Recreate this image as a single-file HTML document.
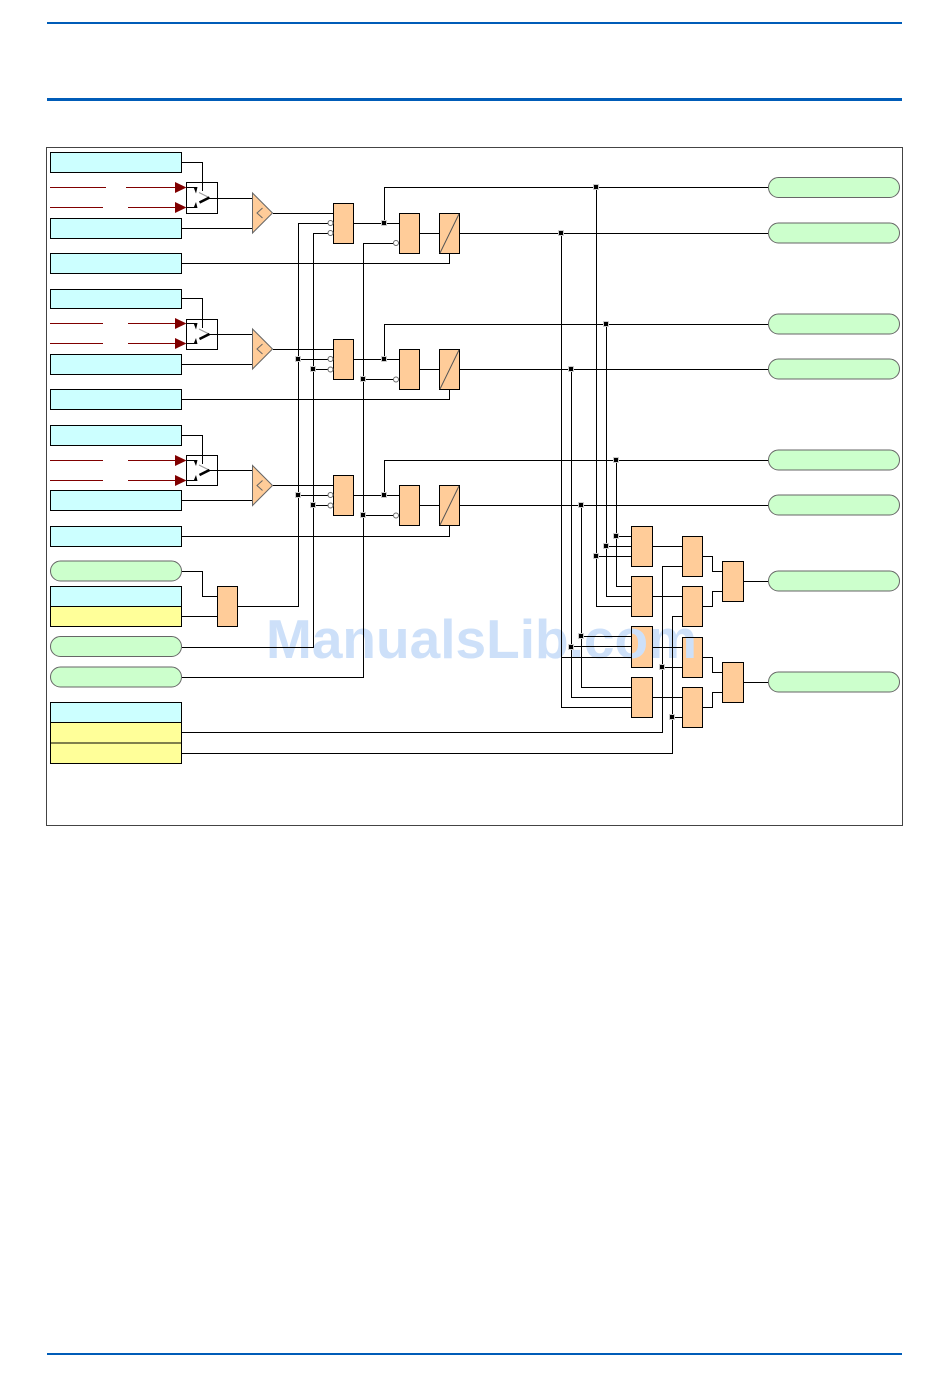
<!DOCTYPE html>
<html>
<head>
<meta charset="utf-8">
<style>
html,body{margin:0;padding:0;background:#fff;}
svg{display:block;}
</style>
</head>
<body>
<svg xmlns="http://www.w3.org/2000/svg" width="950" height="1387" viewBox="0 0 950 1387">
<defs>
<g id="j">
<rect x="382" y="221" width="4" height="4"/><rect x="382" y="357" width="4" height="4"/><rect x="382" y="493" width="4" height="4"/>
<rect x="296" y="357" width="4" height="4"/><rect x="311" y="367" width="4" height="4"/><rect x="361" y="377" width="4" height="4"/>
<rect x="296" y="493" width="4" height="4"/><rect x="311" y="503" width="4" height="4"/><rect x="361" y="513" width="4" height="4"/>
<rect x="594" y="185" width="4" height="4"/><rect x="559" y="231" width="4" height="4"/>
<rect x="604" y="322" width="4" height="4"/><rect x="569" y="367" width="4" height="4"/>
<rect x="614" y="458" width="4" height="4"/><rect x="579" y="503" width="4" height="4"/>
<rect x="614" y="534" width="4" height="4"/><rect x="604" y="544" width="4" height="4"/><rect x="594" y="554" width="4" height="4"/>
<rect x="579" y="634" width="4" height="4"/><rect x="569" y="645" width="4" height="4"/>
<rect x="660" y="665" width="4" height="4"/><rect x="670" y="715" width="4" height="4"/>
</g>
</defs>
<rect width="950" height="1387" fill="#fff"/>
<rect x="47" y="22" width="855" height="2" fill="#005cb8"/>
<rect x="47" y="98" width="855" height="3" fill="#005cb8"/>
<rect x="47" y="1353" width="855" height="2" fill="#005cb8"/>
<rect x="46.5" y="147.5" width="856" height="678" fill="none" stroke="#444" stroke-width="1"/>

<!-- fills -->
<g stroke="none" fill="#ccffff">
<rect x="50" y="152" width="132" height="21"/><rect x="50" y="218" width="132" height="21"/><rect x="50" y="253" width="132" height="21"/>
<rect x="50" y="289" width="132" height="20"/><rect x="50" y="354" width="132" height="21"/><rect x="50" y="389" width="132" height="21"/>
<rect x="50" y="425" width="132" height="21"/><rect x="50" y="490" width="132" height="21"/><rect x="50" y="526" width="132" height="21"/>
<rect x="50" y="586" width="132" height="21"/><rect x="50" y="702" width="132" height="21"/>
</g>
<g stroke="none" fill="#ffff99">
<rect x="50" y="606" width="132" height="21"/><rect x="50" y="722" width="132" height="21"/><rect x="50" y="743" width="132" height="21"/>
</g>
<g fill="#ccffcc" stroke="#666" stroke-width="1">
<rect x="50.5" y="561" width="131" height="20" rx="10"/><rect x="50.5" y="636.5" width="131" height="20" rx="10"/><rect x="50.5" y="667" width="131" height="20" rx="10"/>
<rect x="768.5" y="177.5" width="131" height="20" rx="10"/><rect x="768.5" y="223" width="131" height="20" rx="10"/>
<rect x="768.5" y="314" width="131" height="20" rx="10"/><rect x="768.5" y="359" width="131" height="20" rx="10"/>
<rect x="768.5" y="450" width="131" height="20" rx="10"/><rect x="768.5" y="495" width="131" height="20" rx="10"/>
<rect x="768.5" y="571" width="131" height="20" rx="10"/><rect x="768.5" y="672" width="131" height="20" rx="10"/>
</g>
<g fill="#ffcc99" stroke="none">
<rect x="333" y="203" width="21" height="41"/><rect x="399" y="213" width="21" height="41"/><rect x="439" y="213" width="21" height="41"/>
<rect x="333" y="339" width="21" height="41"/><rect x="399" y="349" width="21" height="41"/><rect x="439" y="349" width="21" height="41"/>
<rect x="333" y="475" width="21" height="41"/><rect x="399" y="485" width="21" height="41"/><rect x="439" y="485" width="21" height="41"/>
<rect x="217" y="586" width="21" height="41"/>
<rect x="631" y="526" width="22" height="41"/><rect x="631" y="576" width="22" height="41"/><rect x="631" y="626" width="22" height="42"/><rect x="631" y="677" width="22" height="41"/>
<rect x="682" y="536" width="21" height="41"/><rect x="682" y="586" width="21" height="41"/><rect x="682" y="637" width="21" height="41"/><rect x="682" y="687" width="21" height="41"/>
<rect x="722" y="561" width="22" height="41"/><rect x="722" y="662" width="22" height="41"/>
</g>

<!-- watermark -->
<text x="266" y="658" font-family="'Liberation Sans',sans-serif" font-weight="700" font-size="55" fill="#cde0f9" textLength="431" lengthAdjust="spacingAndGlyphs">ManualsLib.com</text>

<!-- box outlines -->
<g fill="none" stroke="#000" stroke-width="1">
<rect x="50.5" y="152.5" width="131" height="20"/><rect x="50.5" y="218.5" width="131" height="20"/><rect x="50.5" y="253.5" width="131" height="20"/>
<rect x="50.5" y="289.5" width="131" height="19"/><rect x="50.5" y="354.5" width="131" height="20"/><rect x="50.5" y="389.5" width="131" height="20"/>
<rect x="50.5" y="425.5" width="131" height="20"/><rect x="50.5" y="490.5" width="131" height="20"/><rect x="50.5" y="526.5" width="131" height="20"/>
<rect x="50.5" y="586.5" width="131" height="20"/><rect x="50.5" y="606.5" width="131" height="20"/>
<rect x="50.5" y="702.5" width="131" height="20"/><rect x="50.5" y="722.5" width="131" height="20.5"/><rect x="50.5" y="743" width="131" height="20.5"/>
<rect x="333.5" y="203.5" width="20" height="40"/><rect x="399.5" y="213.5" width="20" height="40"/><rect x="439.5" y="213.5" width="20" height="40"/>
<rect x="333.5" y="339.5" width="20" height="40"/><rect x="399.5" y="349.5" width="20" height="40"/><rect x="439.5" y="349.5" width="20" height="40"/>
<rect x="333.5" y="475.5" width="20" height="40"/><rect x="399.5" y="485.5" width="20" height="40"/><rect x="439.5" y="485.5" width="20" height="40"/>
<rect x="217.5" y="586.5" width="20" height="40"/>
<rect x="631.5" y="526.5" width="21" height="40"/><rect x="631.5" y="576.5" width="21" height="40"/><rect x="631.5" y="626.5" width="21" height="41"/><rect x="631.5" y="677.5" width="21" height="40"/>
<rect x="682.5" y="536.5" width="20" height="40"/><rect x="682.5" y="586.5" width="20" height="40"/><rect x="682.5" y="637.5" width="20" height="40"/><rect x="682.5" y="687.5" width="20" height="40"/>
<rect x="722.5" y="561.5" width="21" height="40"/><rect x="722.5" y="662.5" width="21" height="40"/>
<rect x="186.5" y="182.5" width="31" height="31"/><rect x="186.5" y="319.5" width="31" height="30"/><rect x="186.5" y="455.5" width="31" height="30"/>
</g>
<!-- diagonals -->
<g stroke="#555" stroke-width="1" fill="none">
<path d="M440 253L459 214M440 389L459 350M440 525L459 486"/>
</g>
<!-- triangles -->
<g fill="#ffcc99" stroke="#666" stroke-width="1">
<path d="M252.5 193L272.5 213L252.5 233Z"/><path d="M252.5 329L272.5 349L252.5 369Z"/><path d="M252.5 465.5L272.5 485.5L252.5 505.5Z"/>
</g>
<g fill="none" stroke="#666" stroke-width="1">
<path d="M262.5 208L257 213L262.5 218M262.5 344L257 349L262.5 354M262.5 480.5L257 485.5L262.5 490.5"/>
</g>

<!-- wires -->
<g fill="none" stroke="#000" stroke-width="1">
<path d="M182 162.5H202.5V191M182 228.5H252M209 198.5H252"/>
<path d="M182 298.5H202.5V328M182 364.5H252M209 334.5H252"/>
<path d="M182 435.5H202.5V464M182 500.5H252M209 470.5H252"/>
<path d="M273 213.5H333M299 223.5H328M314 233.5H328M298.5 223V606.5H238M313.5 233V647.5H182M363.5 243V677.5H182M363.5 243.5H393"/>
<path d="M354 223.5H399M384.5 223V187.5H768M420 233.5H439M460 233.5H768M449.5 254V263.5H182"/>
<path d="M273 349.5H333M298 359.5H328M313 369.5H328M354 359.5H399M384.5 359V324.5H768M363 379.5H393M420 369.5H439M460 369.5H768M449.5 390V399.5H182"/>
<path d="M273 485.5H333M298 495.5H328M313 505.5H328M354 495.5H399M384.5 495V460.5H768M363 515.5H393M420 505.5H439M460 505.5H768M449.5 526V536.5H182"/>
<path d="M182 571.5H202.5V596.5H217M182 616.5H217"/>
<path d="M182 732.5H662.5V566.5H682M182 753.5H672.5V616.5H682M662 667.5H682M672 717.5H682"/>
<path d="M596.5 187V606.5H631M606.5 324V596.5H631M616.5 460V586.5H631"/>
<path d="M616 536.5H631M606 546.5H631M596 556.5H631"/>
<path d="M561.5 233V707.5H631M571.5 369V697.5H631M581.5 505V687.5H631"/>
<path d="M581 636.5H631M571 646.5H631M561 657.5H631"/>
<path d="M653 546.5H682M653 596.5H682M653 647.5H682M653 697.5H682"/>
<path d="M703 556.5H712.5V571.5H722M703 606.5H712.5V591.5H722M744 581.5H768"/>
<path d="M703 657.5H712.5V672.5H722M703 707.5H712.5V692.5H722M744 682.5H768"/>
</g>

<!-- inversion circles -->
<g fill="#fff" stroke="#666" stroke-width="1">
<circle cx="330.5" cy="223" r="2.5"/><circle cx="330.5" cy="233" r="2.5"/><circle cx="396" cy="243" r="2.5"/>
<circle cx="330.5" cy="359" r="2.5"/><circle cx="330.5" cy="369.5" r="2.5"/><circle cx="396" cy="379.5" r="2.5"/>
<circle cx="330.5" cy="495" r="2.5"/><circle cx="330.5" cy="505.5" r="2.5"/><circle cx="396" cy="515.5" r="2.5"/>
</g>

<!-- red signal lines -->
<g fill="none" stroke="#800000" stroke-width="1">
<path d="M50 187.5H106M126 187.5H176M50 207.5H103M128 207.5H176"/>
<path d="M50 323.5H103M128 323.5H176M50 343.5H103M128 343.5H176"/>
<path d="M50 460.5H103M128 460.5H176M50 480.5H103M128 480.5H176"/>
</g>
<g fill="#800000" stroke="none">
<path d="M175 182L186.5 187.5L175 193Z"/><path d="M175 202L186.5 207.5L175 213Z"/>
<path d="M175 318L186.5 323.5L175 329Z"/><path d="M175 338L186.5 343.5L175 349Z"/>
<path d="M175 455L186.5 460.5L175 466Z"/><path d="M175 475L186.5 480.5L175 486Z"/>
</g>

<!-- switch internals -->
<g fill="none" stroke="#000" stroke-width="1">
<path d="M187 187.5H195M187 207.5H195M187 323.5H195M187 343.5H195M187 460.5H195M187 480.5H195"/>
</g>
<g fill="#000" stroke="none">
<path d="M193.5 187L197.5 187L196 193.5ZM193.5 208L197.5 208L196 202ZM193.5 323L197.5 323L196 329.5ZM193.5 344L197.5 344L196 338ZM193.5 460L197.5 460L196 466ZM193.5 481L197.5 481L196 475Z"/>
</g>
<g fill="none" stroke="#999" stroke-width="1">
<path d="M199 192.5L209 197.5M199 329L209 334M199 465L209 470"/>
</g>
<g fill="none" stroke="#000" stroke-width="2.6">
<path d="M199.5 202.5L209.5 197.5M199.5 339L209.5 334M199.5 475L209.5 470"/>
</g>

<!-- junctions -->
<use href="#j" fill="#ccc" stroke="#ccc" stroke-width="2"/>
<use href="#j" fill="#000"/>
</svg>
</body>
</html>
